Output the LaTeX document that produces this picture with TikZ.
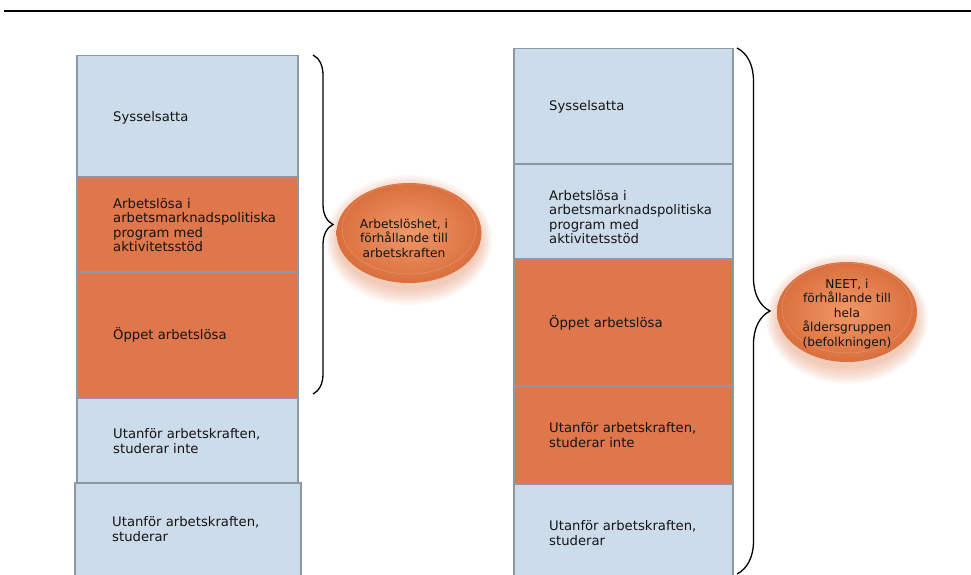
\documentclass[tikz,border=0pt]{standalone}
\usepackage{fontspec}
\setmainfont{DejaVu Sans}
\usetikzlibrary{shapes.geometric,decorations.pathreplacing,backgrounds}
\definecolor{boxblue}{HTML}{CDDCEB}
\definecolor{boxorange}{HTML}{E0764B}
\definecolor{boxline}{HTML}{8C98A2}
\definecolor{ellin}{HTML}{F09868}
\definecolor{ellout}{HTML}{DA6F3E}
\definecolor{txtcol}{HTML}{141414}
\begin{document}
\begin{tikzpicture}[x=1pt,y=-1pt,
  boxb/.style={draw=boxline, line width=1.5pt, fill=boxblue, anchor=north west, inner sep=0pt},
  boxo/.style={draw=boxline, line width=1.5pt, fill=boxorange, anchor=north west, inner sep=0pt},
  txt/.style={anchor=west, inner sep=0pt, align=left, font=\fontsize{13.2}{14.5}\selectfont, text=txtcol},
  ell/.style={ellipse, inner sep=0pt, inner color=ellin, outer color=ellout},
  elltxt/.style={inner sep=0pt, align=center, font=\fontsize{12.2}{14.5}\selectfont, text=txtcol},
  bracestyle/.style={decorate, decoration={brace, amplitude=#1}, line width=1.3pt}]
\useasboundingbox (0,0) rectangle (971,575);
% top rule
\coordinate (ruleL) at (4,11);
\coordinate (ruleR) at (971,11);
\draw[line width=2.5pt] (ruleL) -- (ruleR);

% left column
\node[boxb, minimum width=221pt, minimum height=121pt] (L1) at (76,55) {};
\node[boxo, minimum width=221pt, minimum height=95pt] (L2) at (76,176) {};
\node[boxo, minimum width=221pt, minimum height=126pt] (L3) at (76,271) {};
\node[boxb, minimum width=221pt, minimum height=85pt] (L4) at (76,397) {};
\node[boxb, minimum width=226pt, minimum height=96pt] (L5) at (74,482) {};
\node[txt] (L1t) at (113,118) {Sysselsatta};
\node[txt] (L2t) at (113,225) {Arbetslösa i\\arbetsmarknadspolitiska\\program med\\aktivitetsstöd};
\node[txt] (L3t) at (113,335) {Öppet arbetslösa};
\node[txt] (L4t) at (113,441) {Utanför arbetskraften,\\studerar inte};
\node[txt] (L5t) at (112,529) {Utanför arbetskraften,\\studerar};

% right column
\node[boxb, minimum width=219pt, minimum height=115pt] (R1) at (513,48) {};
\node[boxb, minimum width=219pt, minimum height=95pt] (R2) at (513,163) {};
\node[boxo, minimum width=219pt, minimum height=127pt] (R3) at (513,258) {};
\node[boxo, minimum width=219pt, minimum height=98pt] (R4) at (513,385) {};
\node[boxb, minimum width=219pt, minimum height=95pt] (R5) at (513,483) {};
\node[txt] (R1t) at (549,107) {Sysselsatta};
\node[txt] (R2t) at (549,217) {Arbetslösa i\\arbetsmarknadspolitiska\\program med\\aktivitetsstöd};
\node[txt] (R3t) at (549,323) {Öppet arbetslösa};
\node[txt] (R4t) at (549,435) {Utanför arbetskraften,\\studerar inte};
\node[txt] (R5t) at (549,533) {Utanför arbetskraften,\\studerar};

% braces
\coordinate (lbt) at (313,55);
\coordinate (lbb) at (313,394);
\draw[bracestyle=20pt] (lbt) -- (lbb);
\coordinate (rbt) at (737,48);
\coordinate (rbb) at (737,574);
\draw[bracestyle=33pt] (rbt) -- (rbb);

% ellipses
\node[ell, minimum width=145pt, minimum height=100pt] (e1) at (409,233) {};
\node[ell, minimum width=140pt, minimum height=100pt] (e2) at (847,312) {};
\draw[white, opacity=0.15, line width=0.8pt] ([yshift=4pt]e1.center) ellipse (67 and 45);
\draw[white, opacity=0.15, line width=0.8pt] ([yshift=4pt]e2.center) ellipse (65 and 45);
\node[elltxt] (e1t) at (404,238) {Arbetslöshet, i\\förhållande till\\arbetskraften};
\node[elltxt] (e2t) at (847,314) {NEET, i\\förhållande till\\hela\\åldersgruppen\\(befolkningen)};

\begin{scope}[on background layer]
\foreach \i in {1,...,10} {
  \fill[ellout, opacity=0.045] ([yshift=-7pt]e1.center) ellipse ({70+\i*1.3} and {48+\i*1.7});
  \fill[ellout, opacity=0.045] ([yshift=-7pt]e2.center) ellipse ({68+\i*1.3} and {48+\i*1.7});
}
\end{scope}
\end{tikzpicture}
\end{document}
